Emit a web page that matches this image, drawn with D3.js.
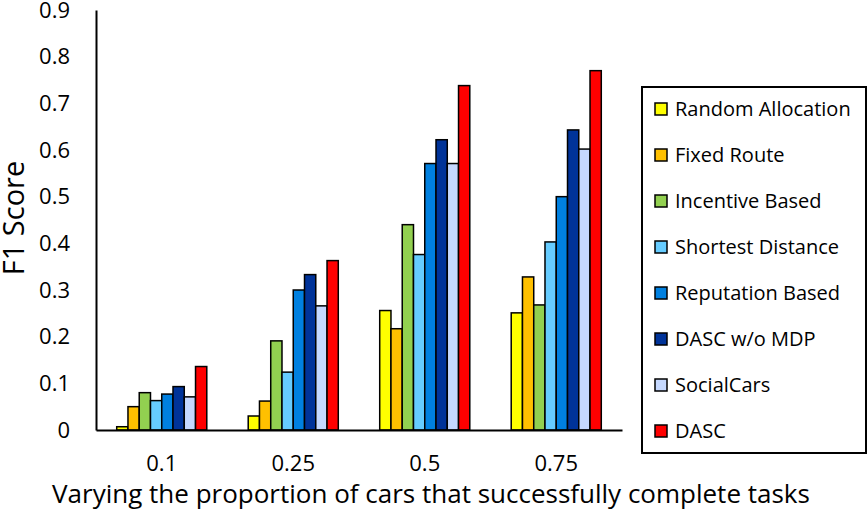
<!DOCTYPE html>
<html>
<head>
<meta charset="utf-8">
<script src="https://cdn.jsdelivr.net/npm/d3@7"></script>
<style>
  body { margin: 0; background: #fff; }
  text { font-family: "Open Sans", sans-serif; fill: #000; }
</style>
</head>
<body>
<script>
// chart size
const width = 868, height = 511;
const margin = { top: 10, right: 246, bottom: 81, left: 96 };

// data
const proportions = ["0.1", "0.25", "0.5", "0.75"];
const methods = ["Random Allocation", "Fixed Route", "Incentive Based", "Shortest Distance",
  "Reputation Based", "DASC w/o MDP", "SocialCars", "DASC"];
const colors = ["#ffff00", "#ffc000", "#92d050", "#66ccff", "#0080e0", "#003399", "#c5d8ff", "#ff0000"];
const randomAllocation = [0.007, 0.030, 0.256, 0.251];
const fixedRoute = [0.050, 0.062, 0.217, 0.328];
const incentiveBased = [0.080, 0.191, 0.440, 0.268];
const shortestDistance = [0.063, 0.124, 0.376, 0.403];
const reputationBased = [0.077, 0.300, 0.571, 0.500];
const dascNoMdp = [0.093, 0.333, 0.622, 0.643];
const socialCars = [0.071, 0.266, 0.571, 0.602];
const dasc = [0.136, 0.363, 0.738, 0.770];
const yTicks = [0, 0.1, 0.2, 0.3, 0.4, 0.5, 0.6, 0.7, 0.8, 0.9];

const series = [randomAllocation, fixedRoute, incentiveBased, shortestDistance,
  reputationBased, dascNoMdp, socialCars, dasc];

const svg = d3.select("body").append("svg")
  .attr("width", width)
  .attr("height", height);

// scales
const x0 = d3.scaleBand()
  .domain(proportions)
  .range([margin.left, width - margin.right])
  .paddingInner(0.315)
  .paddingOuter(0.1575);

const x1 = d3.scaleBand()
  .domain(methods)
  .range([0, x0.bandwidth()]);

const y = d3.scaleLinear()
  .domain([0, 0.9])
  .range([height - margin.bottom, margin.top]);

// bars
const groups = svg.append("g").selectAll("g")
  .data(proportions)
  .join("g")
  .attr("transform", d => `translate(${x0(d)},0)`);

groups.selectAll("rect")
  .data((p, i) => methods.map((m, j) => ({ method: m, value: series[j][i], color: colors[j] })))
  .join("rect")
  .attr("x", d => x1(d.method))
  .attr("y", d => y(d.value))
  .attr("width", x1.bandwidth())
  .attr("height", d => y(0) - y(d.value))
  .attr("fill", d => d.color)
  .attr("stroke", "#000")
  .attr("stroke-width", 1.5);

// y axis
const yAxis = svg.append("g")
  .attr("transform", `translate(${margin.left},0)`)
  .call(d3.axisLeft(y).tickValues(yTicks).tickSize(0).tickPadding(26).tickFormat(d => d === 0 ? "0" : d3.format(".1f")(d)));
yAxis.select(".domain").attr("stroke", "#000").attr("stroke-width", 2);
yAxis.selectAll("text").style("font-size", "22px").style("font-family", "'Open Sans', sans-serif");

// x axis
const xAxis = svg.append("g")
  .attr("transform", `translate(0,${height - margin.bottom})`)
  .call(d3.axisBottom(x0).tickSize(0).tickPadding(25));
xAxis.select(".domain").attr("stroke", "#000").attr("stroke-width", 2);
xAxis.selectAll("text").style("font-size", "22px").style("font-family", "'Open Sans', sans-serif");

// axis titles
svg.append("text")
  .attr("x", 431)
  .attr("y", 503)
  .attr("text-anchor", "middle")
  .style("font-size", "26px")
  .text("Varying the proportion of cars that successfully complete tasks");

svg.append("text")
  .attr("transform", "translate(24,218) rotate(-90)")
  .attr("text-anchor", "middle")
  .style("font-size", "29px")
  .text("F1 Score");

// legend
const legend = svg.append("g").attr("transform", "translate(642,87)");
legend.append("rect")
  .attr("width", 224)
  .attr("height", 366)
  .attr("fill", "#fff")
  .attr("stroke", "#000")
  .attr("stroke-width", 2);

const items = legend.selectAll("g.item")
  .data(methods)
  .join("g")
  .attr("class", "item")
  .attr("transform", (d, i) => `translate(13,${22 + i * 46})`);

items.append("rect")
  .attr("x", 0)
  .attr("y", -6)
  .attr("width", 12)
  .attr("height", 12)
  .attr("fill", (d, i) => colors[i])
  .attr("stroke", "#000")
  .attr("stroke-width", 1.5);

items.append("text")
  .attr("x", 20)
  .attr("dy", "0.35em")
  .style("font-size", "20px")
  .text(d => d);
</script>
</body>
</html>
